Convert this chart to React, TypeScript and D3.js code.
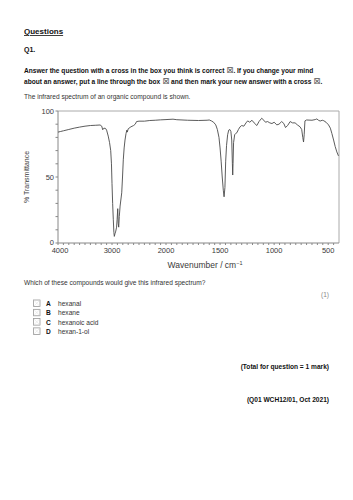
import * as d3 from "d3";

// spectrum: [wavenumber / cm-1, % transmittance]
const spectrum: [number, number][] = [
  [4000, 84], [3950, 84.5], [3900, 85], [3800, 86], [3700, 87], [3600, 87.8], [3500, 88.5],
  [3400, 89], [3300, 89.2], [3220, 89.4], [3190, 88.5], [3172, 85.8], [3150, 87], [3120, 86.8],
  [3100, 85.5], [3070, 81], [3045, 76], [3024, 70], [3010, 60], [3000, 45], [2988, 30],
  [2976, 18], [2965, 8], [2957, 5], [2945, 7], [2930, 9], [2915, 12], [2905, 18], [2894, 26],
  [2885, 15], [2876, 12], [2865, 20], [2850, 28], [2820, 38], [2805, 50], [2791, 63],
  [2775, 72], [2759, 78], [2740, 83], [2725, 85.5], [2717, 84], [2700, 86.5], [2650, 88],
  [2600, 89], [2570, 90], [2545, 92], [2500, 92.3], [2400, 92.3], [2300, 92.8], [2200, 93],
  [2100, 93.3], [2000, 93.5], [1935, 93.8], [1900, 93.4], [1800, 93], [1700, 92.8],
  [1620, 93], [1600, 93.2], [1580, 92.5], [1560, 91.5], [1540, 89.5], [1525, 86], [1510, 80],
  [1500, 72], [1490, 62], [1480, 50], [1470, 40], [1463, 35], [1455, 42], [1448, 62],
  [1440, 74], [1430, 82], [1420, 85.5], [1410, 86], [1400, 84.5], [1392, 78], [1386, 60],
  [1383, 51.5], [1380, 60], [1375, 76], [1365, 82], [1355, 83], [1345, 83.5], [1330, 86],
  [1315, 88], [1300, 89], [1280, 88.5], [1260, 91], [1245, 92.5], [1225, 91.5], [1205, 93],
  [1185, 91], [1160, 89], [1140, 92], [1115, 94.5], [1095, 93], [1080, 91.5], [1060, 92],
  [1040, 91], [1020, 90.5], [1000, 91.5], [975, 89.5], [955, 90], [930, 92], [910, 90.5],
  [895, 87.5], [875, 89], [852, 92], [830, 91], [806, 91], [785, 89.5], [760, 88], [745, 86],
  [735, 80], [728, 76.5], [722, 82], [715, 92.5], [700, 93.2], [650, 93], [620, 93.5],
  [605, 94], [590, 93], [574, 92.4], [555, 93], [540, 92.6], [520, 91.5], [497, 89.5],
  [480, 87], [466, 83], [450, 78], [435, 73], [420, 69], [405, 66],
];

const xMajor = [4000, 3000, 2000, 1500, 1000, 500];
const yMajor = [0, 50, 100];

const options = [
  { letter: "A", name: "hexanal" },
  { letter: "B", name: "hexane" },
  { letter: "C", name: "hexanoic acid" },
  { letter: "D", name: "hexan-1-ol" },
];

const FONT = "'Liberation Sans', Arial, sans-serif";
const BODY = 6.6;

function Cross() {
  return (
    <tspan fontFamily="'DejaVu Sans', sans-serif" fontWeight="normal" fontSize={8.5} fill="#555">
      ⊠
    </tspan>
  );
}

export default function App() {
  // scale doubles below 2000 cm-1, as in the printed spectrum
  const x = d3.scaleLinear().domain([4000, 2000, 400]).range([58, 166, 339]);
  const y = d3.scaleLinear().domain([0, 100]).range([243, 111]);

  const line = d3
    .line<[number, number]>()
    .x((d) => x(d[0]))
    .y((d) => y(d[1]));

  const xMinor = [...d3.range(4000, 2000, -100), ...d3.range(2000, 400, -50)];
  const yMinor = d3.range(0, 101, 10);

  const axisText = "#3a3a3a";

  return (
    <div style={{ position: "absolute", left: 0, top: 0 }}>
      <svg width={353} height={500} style={{ display: "block", background: "#fff" }} fontFamily={FONT}>
        {/* heading */}
        <text x={24} y={34} fontSize={8} fontWeight="bold" textDecoration="underline" fill="#111">
          Questions
        </text>
        <text x={24} y={52} fontSize={7} fontWeight="bold" fill="#111">
          Q1.
        </text>
        <text x={24} y={73} fontSize={BODY} fontWeight="bold" fill="#111">
          Answer the question with a cross in the box you think is correct <Cross />. If you change your mind
        </text>
        <text x={24} y={84} fontSize={BODY} fontWeight="bold" fill="#111">
          about an answer, put a line through the box <Cross /> and then mark your new answer with a cross <Cross />.
        </text>
        <text x={24} y={99} fontSize={BODY} fill="#333">
          The infrared spectrum of an organic compound is shown.
        </text>

        {/* chart frame */}
        <line x1={x(4000)} x2={x(400)} y1={y(100)} y2={y(100)} stroke="#aaa" strokeWidth={1} />
        <line x1={x(400)} x2={x(400)} y1={y(100)} y2={y(0)} stroke="#aaa" strokeWidth={1} />

        {/* y axis */}
        <line x1={x(4000)} x2={x(4000)} y1={y(100)} y2={y(0)} stroke="#888" strokeWidth={1} />
        {yMinor.map((t) => (
          <line key={t} x1={x(4000) - 2.5} x2={x(4000)} y1={y(t)} y2={y(t)} stroke="#888" />
        ))}
        {yMajor.map((t) => (
          <text key={t} x={x(4000) - 4} y={y(t) - (t === 0 ? 1 : 0)} dy="0.35em" textAnchor="end" fontSize={7.5} fill={axisText}>
            {t}
          </text>
        ))}
        <text
          transform={`translate(29, ${y(50)}) rotate(-90)`}
          textAnchor="middle"
          fontSize={7}
          fill={axisText}
        >
          % Transmittance
        </text>

        {/* x axis */}
        <line x1={x(4000)} x2={x(400)} y1={y(0)} y2={y(0)} stroke="#888" strokeWidth={1} />
        {xMinor.map((t) => (
          <line key={t} x1={x(t)} x2={x(t)} y1={y(0)} y2={y(0) + 2} stroke="#888" />
        ))}
        {xMajor.map((t) => (
          <text key={t} x={x(t) + (t === 4000 ? 2 : 0)} y={y(0) + 9.5} textAnchor="middle" fontSize={7.5} fill={axisText}>
            {t}
          </text>
        ))}
        <text x={205} y={268} textAnchor="middle" fontSize={8.5} fill={axisText}>
          Wavenumber / cm
          <tspan dy={-3} fontSize={5.5}>−1</tspan>
        </text>

        {/* spectrum */}
        <path d={line(spectrum) ?? ""} fill="none" stroke="#4a4a4a" strokeWidth={0.9} />

        {/* question */}
        <text x={24} y={285} fontSize={BODY} fill="#333">
          Which of these compounds would give this infrared spectrum?
        </text>
        <text x={329} y={297} textAnchor="end" fontSize={BODY} fill="#888">
          (1)
        </text>
        {options.map((o, i) => {
          const by = 306 + i * 9.3;
          return (
            <g key={o.letter}>
              <rect x={33.5} y={by - 6} width={6.5} height={6.5} fill="none" stroke="#888" strokeWidth={0.7} />
              <line x1={33.5} y1={by - 6} x2={40} y2={by + 0.5} stroke="#ddd" strokeWidth={0.5} />
              <line x1={40} y1={by - 6} x2={33.5} y2={by + 0.5} stroke="#ddd" strokeWidth={0.5} />
              <text x={46} y={by} fontSize={BODY} fontWeight="bold" fill="#111">
                {o.letter}
              </text>
              <text x={58} y={by} fontSize={BODY} fill="#333">
                {o.name}
              </text>
            </g>
          );
        })}

        <text x={329} y={369} textAnchor="end" fontSize={BODY} fontWeight="bold" fill="#111">
          (Total for question = 1 mark)
        </text>
        <text x={329} y={402} textAnchor="end" fontSize={BODY} fontWeight="bold" fill="#111">
          (Q01 WCH12/01, Oct 2021)
        </text>
      </svg>
    </div>
  );
}
